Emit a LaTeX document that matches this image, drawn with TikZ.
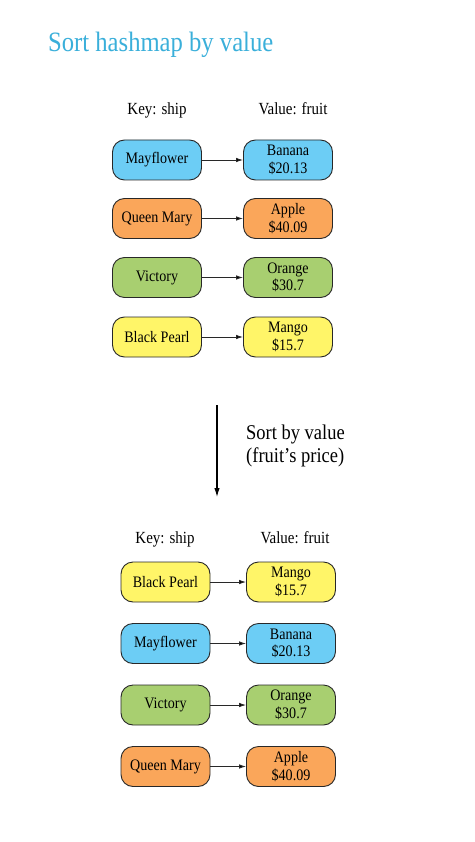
\documentclass[tikz,border=0pt]{standalone}
\usepackage{fontspec}
\setmainfont[FakeStretch=0.88]{Liberation Serif}
\usetikzlibrary{arrows.meta}
\definecolor{mapblue}{RGB}{108, 205, 245}
\definecolor{maporange}{RGB}{250, 166, 90}
\definecolor{mapgreen}{RGB}{168, 207, 112}
\definecolor{mapyellow}{RGB}{255, 245, 104}
\definecolor{maptitle}{RGB}{58, 175, 218}
\definecolor{mapline}{RGB}{40, 40, 40}
\tikzset{
    head label/.style={
        font=\fontsize{17}{20}\selectfont,
        inner sep=0pt
    }
}

\begin{document}
\begin{tikzpicture}[->, >={Latex[length=7pt, width=4.5pt]}, x=1pt, y=-1pt]
    \useasboundingbox (0,0) rectangle (474,842);

    \tikzstyle{entry} = [
        rectangle,
        rounded corners=12pt,
        draw=mapline,
        line width=0.9pt,
        minimum width=89pt,
        minimum height=40pt,
        inner sep=0pt,
        align=center,
        font=\fontsize{16}{17.5}\selectfont
    ]
    \tikzstyle{entry0} = [entry, fill=mapblue]
    \tikzstyle{entry1} = [entry, fill=maporange]
    \tikzstyle{entry2} = [entry, fill=mapgreen]
    \tikzstyle{entry3} = [entry, fill=mapyellow]

    % Titre
    \node[anchor=base west, inner sep=0pt, text=maptitle,
          font=\fontsize{28}{32}\selectfont] (title) at (48,52) {Sort hashmap by value};

    % Table avant le tri
    \node[head label, anchor=base] (keyA) at (157,115) {Key: ship};
    \node[head label, anchor=base] (valA) at (293,115) {Value: fruit};

    \node[entry0] (ka1) at (157,160) {Mayflower};
    \node[entry1] (ka2) at (157,218.5) {Queen Mary};
    \node[entry2] (ka3) at (157,277.5) {Victory};
    \node[entry3] (ka4) at (157,337) {Black Pearl};

    \node[entry0] (va1) at (288,160) {Banana\\\$20.13};
    \node[entry1] (va2) at (288,218.5) {Apple\\\$40.09};
    \node[entry2] (va3) at (288,277.5) {Orange\\\$30.7};
    \node[entry3] (va4) at (288,337) {Mango\\\$15.7};

    \path[->, draw=mapline, line width=0.8pt]
        (ka1) edge (va1)
        (ka2) edge (va2)
        (ka3) edge (va3)
        (ka4) edge (va4);

    % Fleche du tri
    \coordinate (sortStart) at (217,405);
    \coordinate (sortEnd) at (217,497);
    \draw[-{Latex[length=9pt, width=5.5pt]}, line width=1.1pt, draw=black] (sortStart) -- (sortEnd);
    \node[anchor=west, inner sep=0pt, align=left,
          font=\fontsize{21}{23.7}\selectfont] (sortText) at (246,446)
        {Sort by value\\(fruit's price)};

    % Table apres le tri
    \node[head label, anchor=base] (keyB) at (165,543) {Key: ship};
    \node[head label, anchor=base] (valB) at (295,543) {Value: fruit};

    \node[entry3] (kb1) at (165.5,582) {Black Pearl};
    \node[entry0] (kb2) at (165.5,643.5) {Mayflower};
    \node[entry2] (kb3) at (165.5,705) {Victory};
    \node[entry1] (kb4) at (165.5,766.5) {Queen Mary};

    \node[entry3] (vb1) at (291,582) {Mango\\\$15.7};
    \node[entry0] (vb2) at (291,643.5) {Banana\\\$20.13};
    \node[entry2] (vb3) at (291,705) {Orange\\\$30.7};
    \node[entry1] (vb4) at (291,766.5) {Apple\\\$40.09};

    \path[->, draw=mapline, line width=0.8pt]
        (kb1) edge (vb1)
        (kb2) edge (vb2)
        (kb3) edge (vb3)
        (kb4) edge (vb4);

\end{tikzpicture}
\end{document}
